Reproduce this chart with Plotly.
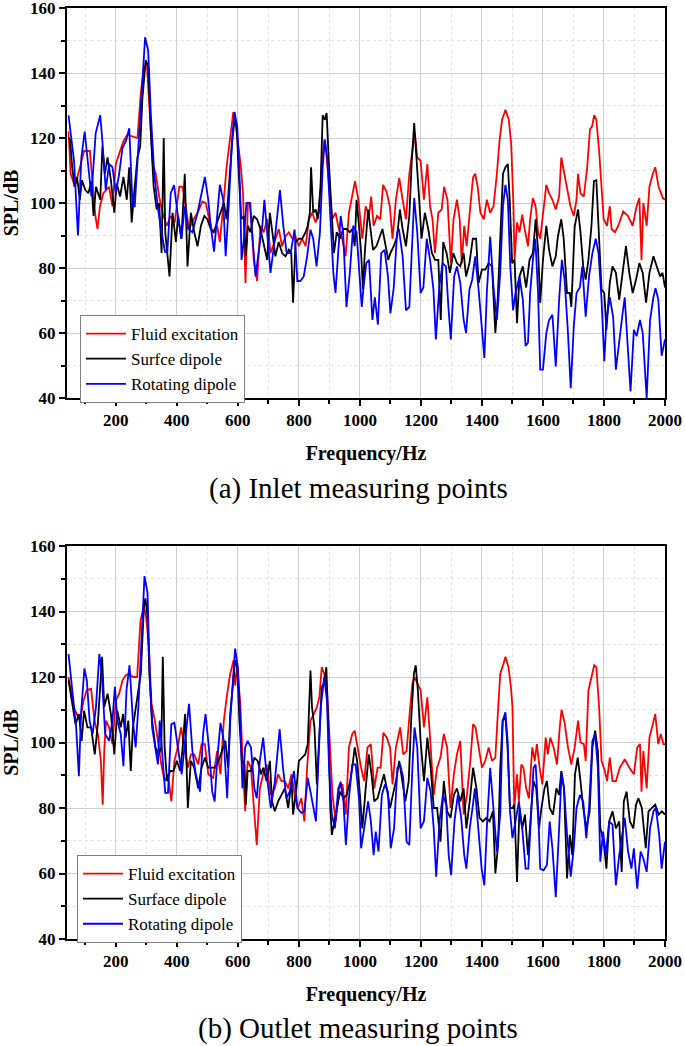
import plotly.graph_objects as go

# ---------------- data (frequency Hz, SPL dB) ----------------
inlet_fluid = [(45,122),(52,109),(66,105),(80,110),(96,116),(115,116),(124,105),(133,96),(140,92),(148,99),(159,103),(178,105),(189,99),(200,112),(214,116),(225,119),(238,121),(255,120.5),(271,120),(282,134),(293,142),(302,142.6),(312,127.7),(321,112),(331,109),(342,102),(353,97),(367,93),(380,96),(393,94),(408,105),(419,105),(429,99),(440,92),(455,95),(468,97),(484,100.5),(495,100),(506,95),(517,91),
(532,93),(541,88),(552,99),(563,111),(574,119.5),(585,128),(592,124.6),(600,118.5),(609,112),(617,103),(625,75.4),(633,100),(641,100),(652,82.5),(663,76),(674,93),(685,91),(696,95),(707,84.6),(720,88),(734,92),(745,86.7),(756,89.7),(767,91),(779,89),(789,89.7),(800,86.7),(811,89),(822,86.7),(833,95),(844,97),(855,94),(866,97),(877,114),(884,119.5),(891,114),(900,104),(909,95),(920,97),(931,92),(942,89),(953,83.6),(964,97),(975,103),(984,106.7),(995,101),
(1008,89),(1019,99),(1030,96),(1037,102),(1045,93),(1056,96),(1067,95),(1076,105.6),(1087,103.6),(1098,99),(1107,89),(1118,101),(1129,107.7),(1140,101),(1151,95),(1162,109),(1173,116),(1180,121.5),(1188,114),(1199,113),(1210,101),(1221,112),(1230,99),(1238,95),(1246,84.6),(1257,97),(1268,98),(1276,105),(1287,101),(1298,81.5),(1307,95),(1318,101),(1327,95),(1334,81.5),(1342,93),(1350,86.7),(1362,99),(1371,108),(1378,109),(1386,105),(1395,97),(1406,95),(1416,101),(1427,97),(1438,99),(1449,109),(1458,119.5),(1466,125.6),(1477,128.7),(1488,125.6),(1496,118),(1503,100),(1507,82.5),
(1515,94),(1523,91),(1532,96.4),(1540,92),(1551,86.7),(1558,95),(1567,101.5),(1576,99),(1584,91),(1591,89),(1600,97),(1611,105.6),(1620,103),(1631,101),(1642,98),(1653,102),(1660,114),(1668,110),(1679,105),(1690,99),(1701,96),(1710,101),(1715,109),(1723,103),(1734,102),(1745,111),(1754,122.6),(1761,123.6),(1768,127),(1775,125.6),(1784,116),(1792,105),(1799,95),(1810,93),(1819,99),(1825,92),(1836,91),(1847,93),(1863,97.4),(1879,96),(1894,93),(1907,99),(1916,101.5),(1923,82.5),(1929,100),(1940,93),(1949,105),(1960,109),(1968,111),(1979,105),(1987,103),(1993,101.5),(2000,101)]

inlet_surface = [(45,120),(50,119.5),(57,111),(65,105),(73,108),(82,101),(89,107),(100,104),(110,103),(120,106.7),(127,96),(135,105),(149,101),(156,117.4),(164,109),(173,114),(184,107),(195,97),(203,106),(214,102),(225,108),(236,101),(244,111),(252,94),(260,103),(271,114),(280,117.4),(287,132),(298,144),(306,142),(315,121.5),(324,105),(334,98),(342,100),(350,84.6),(357,120),(362,91),(369,84.6),(376,77.4),(386,97),(397,88),(404,96),(415,89),(426,109),(435,80.5),(446,97),(457,91),(468,86.7),(479,93),(490,96),(500,95),(511,92),
(521,91),(532,94),(543,97),(554,100),(563,95),(570,105),(581,118.5),(589,125.6),(596,123.6),(603,109),(611,95),(620,96),(626,83.6),(633,93),(641,91),(652,96),(663,95),(674,92),(685,86.7),(696,82.5),(705,97),(712,91),(723,83.6),(734,88),(745,84.6),(756,83.6),(767,85.6),(775,84.6),(781,69.3),(789,88),(800,89),(811,89),(822,91),(829,93),(836,97),(840,111),(847,97),(855,98),(862,95),(871,105),(878,127),(885,125.6),(891,127.7),(898,113),(906,99),(915,84.6),(924,91),(935,89),(945,92),(956,92),(967,91),(975,92),(983,86.7),(989,101),(997,93),(1004,84.6),(1010,73.4),
(1016,84.6),(1027,98),(1035,91),(1043,85.6),(1054,86.7),(1063,89),(1074,92),(1082,88),(1093,82.5),(1100,84.6),(1111,86.7),(1122,89.7),(1131,98),(1140,92),(1151,86.7),(1162,96),(1170,113),(1178,124.6),(1186,114),(1195,100),(1202,89),(1213,97),(1224,92),(1236,84.6),(1246,82.5),(1257,82.5),(1265,64),(1273,88),(1284,84.6),(1295,78.5),(1306,84.6),(1318,81.5),(1329,80.5),(1340,84.6),(1348,77.4),(1359,81.5),(1370,89),(1381,89),(1389,75.4),(1400,79.5),(1411,79.5),(1422,81.5),(1433,80.5),(1444,60),(1452,71),(1460,91),(1469,109),(1477,111),(1485,112),(1491,101),(1499,81.5),(1507,82.5),
(1515,63),(1523,77.4),(1534,80.5),(1545,74),(1556,82.5),(1567,84.6),(1576,95),(1584,85.6),(1591,69.3),(1600,82.5),(1611,93),(1620,85.6),(1631,80.5),(1642,83.6),(1649,89.7),(1660,95),(1668,89),(1679,72.3),(1688,72.3),(1693,68),(1704,92.8),(1715,98),(1723,91),(1732,80.5),(1740,76.4),(1749,82.5),(1759,93),(1767,106.7),(1775,107),(1784,89),(1792,73.4),(1801,72.3),(1808,61),(1819,75.4),(1828,80.5),(1839,78.5),(1850,70.3),(1861,78.5),(1872,86.7),(1883,78.5),(1894,72.3),(1905,76.4),(1916,81.5),(1927,78.5),(1938,69.3),(1949,78.5),(1962,83.6),(1973,80.5),(1984,77.4),(1992,78.5),(2000,74)]

inlet_rotating = [(45,127),(63,113),(76,90),(87,114),(98,122),(109,113),(120,102),(134,121.5),(149,127),(156,119),(167,104),(178,112),(189,111),(200,103),(211,109),(222,117),(233,119),(244,123),(255,99),(262,99),(273,116),(285,137),(296,151),(306,147),(315,127),(326,109),(337,99),(348,92),(361,85),(369,85),(380,103),(391,105.5),(402,97),(415,89),(426,99),(437,92),(451,91),(468,97),(481,103),(492,108),(503,101),(511,93),(522,85),
(532,96),(541,105.6),(552,101),(560,83.6),(570,99),(581,119.5),(589,128),(598,123.6),(607,105),(612,82.5),(620,89),(628,100),(639,100),(647,91),(658,77.4),(669,85.6),(680,92.8),(687,101),(696,91),(707,78.5),(720,88),(729,97),(738,104),(749,93),(760,84.6),(773,84.6),(786,91.8),(795,76),(805,76),(816,77.4),(827,83.6),(838,91.8),(847,89),(858,80.5),(869,91),(878,111),(885,119.5),(893,114),(904,96),(913,78.5),(920,72.3),(928,82.5),(937,96),(945,91),(956,68),(967,78.5),(978,93),(989,91),(1000,75.4),(1006,68),
(1013,75),(1021,81.5),(1030,82.5),(1041,64),(1049,71),(1059,62.6),(1070,84.6),(1081,85.6),(1092,77.4),(1100,66),(1111,74),(1122,91),(1128,92),(1140,83.6),(1151,67),(1162,68),(1173,91),(1178,101.5),(1188,91),(1199,72.3),(1208,74),(1219,89),(1230,82.5),(1241,73.4),(1249,58),(1260,74),(1271,81.5),(1282,80.5),(1290,68),(1298,58),(1309,77.4),(1318,80.5),(1329,75.4),(1340,64),(1348,60),(1359,73.4),(1368,76.4),(1378,83.6),(1389,73.4),(1400,60),(1408,52.3),(1416,72.3),(1427,89.7),(1438,74),(1449,64),(1460,78.5),(1469,99),(1477,105.6),(1485,101),(1493,80.5),(1502,67),(1510,72.3),
(1523,77.4),(1534,70.3),(1543,56),(1551,57),(1558,72.3),(1567,82.5),(1575,89),(1584,72.3),(1591,48.7),(1600,48.7),(1611,60),(1620,64),(1631,65.6),(1642,49.7),(1653,70.3),(1662,82.5),(1671,76.4),(1682,60),(1691,43),(1701,62),(1710,72.3),(1721,74),(1729,80.5),(1740,65),(1751,77.4),(1762,84.6),(1773,89),(1782,84.6),(1792,70.3),(1801,51.3),(1808,64),(1819,71),(1830,65),(1839,48.7),(1850,58),(1861,66),(1868,71),(1876,59),(1887,42),(1898,61),(1907,59),(1918,64),(1927,60),(1940,40),(1951,64),(1962,71),(1969,73.8),(1978,70.3),(1989,53),(2000,58)]

outlet_fluid = [(45,120),(62,110.8),(72,108.7),(83,106.7),(94,112.8),(105,116),(119,116.4),(130,106.7),(141,102.6),(146,97.4),(151,94.4),(157,81),(162,97.4),(168,106.7),(178,104.6),(189,99.5),(200,112.8),(211,114.9),(222,119),(232,120.5),(243,121),(256,120),(270,120),(281,137.4),(292,141.5),(299,138.5),(308,130),(317,111.8),(328,106.7),(338,100.5),(349,93.3),(360,88.2),(371,90.3),(382,82),(392,94.4),(403,98.5),(414,104.6),(425,98.5),(436,92.3),(446,96.4),(457,96.4),(470,93.3),(481,99.5),(492,99.5),(503,90.3),(519,89.2),
(532,97.4),(543,90.3),(554,106.7),(565,114.9),(575,121),(586,125.1),(591,117.4),(598,123),(608,111.8),(615,96.4),(624,79),(632,94.4),(643,92.3),(651,82),(662,68.7),(672,86),(683,90.3),(694,93.3),(708,84),(721,86),(732,90.3),(743,88.2),(754,88.2),(765,86),(776,90.3),(786,84),(797,80),(808,83),(818,75.9),(827,92.3),(838,106.7),(849,108.7),(859,110.8),(867,113.8),(875,123),(883,121),(892,115.9),(901,100.5),(910,84),(921,75.9),(932,86),(943,87.2),(954,78),(964,98.5),(975,102.6),(983,103.6),(994,97.4),(1004,92.3),(1014,88.2),
(1025,98.5),(1036,99.5),(1047,86),(1058,92.3),(1068,92.3),(1077,103),(1088,101.5),(1099,98.5),(1107,87.2),(1118,98.5),(1132,104.6),(1142,96.4),(1153,97.4),(1162,107.7),(1172,118),(1179,120),(1188,118),(1199,116),(1210,104.6),(1221,113.8),(1232,98.5),(1242,84),(1253,92.3),(1264,95.4),(1275,102.6),(1286,98.5),(1297,80),(1308,90.3),(1318,96.4),(1329,100.5),(1340,78),(1351,84),(1362,94.4),(1371,105.6),(1379,104.6),(1389,98.5),(1400,92.3),(1411,94.4),(1422,98.5),(1433,94.4),(1444,95.4),(1452,108.7),(1460,121),(1471,124.1),(1477,126.2),(1487,123),(1495,117),(1500,110.8),(1506,80),
(1515,90.3),(1521,82),(1529,93.3),(1536,92.3),(1545,86),(1554,83),(1565,98.5),(1573,94.4),(1580,99.5),(1589,92.3),(1598,87.2),(1609,101.5),(1616,96.4),(1624,101.5),(1635,98.5),(1646,93.3),(1655,104.6),(1661,110),(1671,106),(1682,98.5),(1693,93.3),(1704,98.5),(1715,106.7),(1723,100),(1734,99.5),(1740,94.4),(1749,115.9),(1759,120),(1768,123.6),(1775,123),(1784,110.8),(1792,94.4),(1803,91.3),(1810,88.2),(1819,95.4),(1828,88.2),(1839,88.2),(1852,92.3),(1868,94.9),(1883,92.3),(1898,90.3),(1909,98.5),(1918,99.5),(1923,85),(1929,97.4),(1940,86),(1949,101.5),(1960,105.6),(1968,108.7),(1978,99.5),(1986,102.6),(1995,99.5),(2000,99.5)]

outlet_surface = [(45,119),(58,110.8),(68,105.6),(79,108.7),(88,100.5),(96,109.7),(107,104.6),(119,104.6),(131,96.4),(141,105.6),(148,117),(155,126.2),(162,110.8),(173,114.9),(184,108.7),(195,96.4),(205,109.7),(216,104.6),(224,108.7),(232,101.5),(241,106.7),(249,91.3),(256,104.6),(265,109.7),(274,116),(282,121),(292,141.5),(297,144),(304,138.5),(310,121),(319,106.7),(330,98.5),(341,96.4),(349,98.5),(354,126.2),(360,98.5),(368,88.2),(378,91.3),(389,91.3),(400,94.4),(411,91.3),(418,97.4),(427,108.7),(436,80),(446,94.4),(457,92.3),(470,86),(481,92.3),(492,95.4),(503,92.3),(514,92.3),
(526,92.3),(537,94.4),(548,97.4),(559,100.5),(568,92.3),(575,108.7),(584,118),(591,125.1),(598,123),(605,106.7),(613,94.4),(622,93.3),(626,81),(632,91.3),(643,91.3),(654,95.4),(665,94.4),(676,90.3),(683,92.3),(694,88.2),(705,94.4),(712,82),(721,79),(732,82),(743,84),(754,86),(765,80),(776,88.2),(781,78),(792,86),(800,94.4),(810,95.4),(821,96.4),(829,99.5),(838,122),(843,110.8),(851,104.6),(859,87.2),(867,104.6),(875,117),(883,118),(890,123),(896,106.7),(903,80),(908,71.8),(916,75.9),(924,79),(935,85),(946,83),(957,84),(968,88.2),(975,92.3),(983,98.5),(991,94.4),(1000,84),(1008,73.8),
(1019,86),(1029,96.4),(1038,90.3),(1047,82),(1058,83),(1066,86),(1079,90.3),(1088,86),(1099,80),(1108,84),(1118,88.2),(1129,94.4),(1138,89.2),(1149,82),(1160,88.2),(1168,106.7),(1177,121),(1183,123.6),(1190,115.9),(1199,100.5),(1210,88.2),(1221,101.5),(1232,92.3),(1242,80),(1253,80),(1264,69.7),(1275,88.2),(1286,79),(1297,77),(1308,84),(1318,86),(1329,82),(1340,86),(1349,73.8),(1360,82),(1371,92.3),(1382,86),(1392,77),(1403,75.9),(1414,77),(1425,75.9),(1436,79),(1444,60),(1453,68.7),(1460,92.3),(1468,106.7),(1477,107.7),(1484,98.5),(1492,80),(1501,80),(1506,81),
(1515,57.4),(1523,80),(1532,73.8),(1541,78),(1551,65.6),(1562,80),(1569,88.2),(1578,86),(1587,73.8),(1595,80),(1605,86),(1613,88.2),(1622,80),(1633,78),(1644,86),(1653,84),(1660,91.3),(1669,86),(1679,58.5),(1688,71.8),(1696,65.6),(1705,90.3),(1714,95.4),(1723,88.2),(1732,80),(1742,73.8),(1753,79),(1762,98.5),(1771,103.6),(1780,97.4),(1788,73.8),(1799,69.7),(1808,61.5),(1817,75.9),(1828,79),(1839,73.8),(1850,75.9),(1858,60.5),(1865,82),(1874,85),(1885,75.9),(1896,73.8),(1905,81),(1913,83),(1924,80),(1937,67.7),(1946,79),(1957,80),(1968,81),(1979,78),(1990,79),(2000,78)]

outlet_rotating = [(45,127),(59,115),(70,104.6),(79,89.7),(86,108.7),(97,122.6),(105,119),(114,106.7),(124,102.6),(135,110.8),(146,127),(154,121),(165,102.6),(178,100.5),(189,106.7),(197,117),(205,106.7),(216,102.6),(225,92.8),(235,116),(245,123.6),(256,106.7),(265,98.5),(274,111),(284,133.3),(294,150.8),(304,145.6),(311,121),(319,104.6),(330,98.5),(338,93.3),(344,106.7),(351,98.5),(362,84.6),(371,84.6),(382,105.6),(392,106),(403,98.5),(416,90.3),(427,100.5),(440,111.8),(451,97.4),(462,90.3),(476,85),(486,102.6),(494,108.7),(505,98.5),(516,85),(524,82),
(532,94.4),(543,106),(554,100.5),(565,83),(575,106.7),(584,121),(591,128.7),(600,123),(608,106.7),(615,86),(624,98.5),(632,100.5),(643,98.5),(654,86),(662,83),(672,94.4),(683,101.5),(694,90.3),(708,80),(721,88),(732,100.5),(737,104),(748,92.3),(759,83),(770,85),(784,91.3),(795,80),(808,78.5),(818,79),(829,89.2),(838,85),(845,81),(856,75.9),(864,94.4),(872,111),(883,120),(892,112.8),(899,92.3),(908,78),(918,73.8),(929,86),(937,88),(946,82),(954,68.7),(964,83),(975,93.3),(986,93.3),(997,83),(1004,67.7),(1014,73.8),
(1027,82),(1036,75.9),(1045,65.6),(1052,72.8),(1061,66.7),(1072,84),(1082,87.2),(1092,85),(1101,67.7),(1112,73.8),(1123,92.3),(1132,93.3),(1142,89.2),(1153,69.7),(1162,68.7),(1172,92.3),(1179,104.6),(1188,98.5),(1199,73.8),(1210,76),(1221,89.2),(1232,85),(1242,73.8),(1250,59),(1261,76),(1272,84),(1283,81),(1291,65.6),(1299,59.5),(1310,76),(1321,84),(1332,77),(1342,65.6),(1349,61.5),(1360,73.8),(1369,80),(1377,86),(1388,73.8),(1399,61.5),(1408,56.4),(1416,73.8),(1427,92.3),(1438,78),(1449,66.7),(1460,78),(1468,106.7),(1477,109.2),(1484,100.5),(1492,79),(1500,70.8),(1510,75.9),
(1521,82),(1532,73.8),(1543,61.5),(1552,61.5),(1561,80),(1569,92.3),(1576,93.3),(1584,80),(1591,61.5),(1602,61),(1613,62.6),(1622,75.9),(1631,67.7),(1642,52.8),(1653,73.8),(1661,90.8),(1669,86),(1679,71.8),(1691,59),(1701,67.7),(1710,80),(1721,84),(1732,82),(1742,70.8),(1751,80),(1762,100.5),(1771,102.6),(1780,92.3),(1788,63.6),(1797,72.8),(1806,65.6),(1817,75.9),(1828,74.9),(1839,56.4),(1850,65.6),(1861,71.8),(1868,77),(1879,66.7),(1890,61.5),(1898,67.7),(1909,55.4),(1920,66.7),(1929,64.6),(1940,60.5),(1951,73.8),(1962,79),(1970,80),(1981,71.8),(1989,61.5),(2000,69.7)]

inlet_names = ["Fluid excitation", "Surfce dipole", "Rotating dipole"]
outlet_names = ["Fluid excitation", "Surface dipole", "Rotating dipole"]
colors = ["#ff0000", "#000000", "#0000ff"]
x_ticks = list(range(200, 2001, 200))
y_ticks = list(range(40, 161, 20))

# ---------------- figure ----------------
SERIF = "Liberation Serif, Times New Roman, serif"
fig = go.Figure()

def add_series(series, names, xa, ya, legend):
    for data, name, col in zip(series, names, colors):
        fig.add_trace(go.Scatter(
            x=[p[0] for p in data], y=[p[1] for p in data],
            mode="lines", name=name, line=dict(color=col, width=1.8),
            xaxis=xa, yaxis=ya, legend=legend))

add_series([inlet_fluid, inlet_surface, inlet_rotating], inlet_names, "x", "y", "legend")
add_series([outlet_fluid, outlet_surface, outlet_rotating], outlet_names, "x2", "y2", "legend2")

tickfont = dict(family=SERIF, size=17, color="black", weight="bold")
titlefont = dict(family=SERIF, size=20, color="black", weight="bold")

def xaxis_cfg(anchor):
    return dict(range=[40, 2000], tickvals=x_ticks, ticks="outside", ticklen=6, tickwidth=2,
                tickcolor="black", showline=True, linecolor="black", linewidth=2, mirror=True,
                showgrid=True, gridcolor="#cfcfcf", gridwidth=1, zeroline=False,
                tickfont=tickfont, anchor=anchor, automargin=False,
                ticklabeloverflow="allow",
                title=dict(text="Frequency/Hz", font=titlefont, standoff=17),
                minor=dict(dtick=100, tick0=0, ticks="outside", ticklen=4, tickwidth=1.5,
                           tickcolor="black", showgrid=True, gridcolor="#e2e2e2",
                           griddash="dot", gridwidth=1))

def yaxis_cfg(anchor, domain):
    return dict(range=[40, 160], tickvals=y_ticks, ticks="outside", ticklen=6, tickwidth=2,
                tickcolor="black", showline=True, linecolor="black", linewidth=2, mirror=True,
                showgrid=True, gridcolor="#cfcfcf", gridwidth=1, zeroline=False,
                tickfont=tickfont, anchor=anchor, domain=domain, automargin=False,
                ticklabeloverflow="allow",
                title=dict(text="SPL/dB", font=titlefont, standoff=8),
                minor=dict(dtick=10, tick0=0, ticks="outside", ticklen=4, tickwidth=1.5,
                           tickcolor="black", showgrid=True, gridcolor="#e2e2e2",
                           griddash="dot", gridwidth=1))

legfont = dict(family=SERIF, size=17, color="black")
fig.update_layout(
    width=685, height=1046,
    margin=dict(l=67, r=20, t=8, b=107, autoexpand=False),
    paper_bgcolor="white", plot_bgcolor="white",
    xaxis=xaxis_cfg("y"), yaxis=yaxis_cfg("x", [0.5811, 1.0]),
    xaxis2=xaxis_cfg("y2"), yaxis2=yaxis_cfg("x2", [0.0, 0.4221]),
    legend=dict(x=0.0217, y=0.6702, xanchor="left", yanchor="top", font=legfont,
                bordercolor="#7f7f7f", borderwidth=1, bgcolor="white",
                tracegroupgap=0, itemwidth=40),
    legend2=dict(x=0.0167, y=0.0902, xanchor="left", yanchor="top", font=legfont,
                 bordercolor="#7f7f7f", borderwidth=1, bgcolor="white",
                 tracegroupgap=0, itemwidth=40),
    showlegend=True,
    annotations=[
        dict(text="(a) Inlet measuring points", xref="paper", yref="paper",
             x=0.487, y=0.4834, xanchor="center", yanchor="middle", showarrow=False,
             font=dict(family=SERIF, size=29, color="black")),
        dict(text="(b) Outlet measuring points", xref="paper", yref="paper",
             x=0.487, y=-0.0956, xanchor="center", yanchor="middle", showarrow=False,
             font=dict(family=SERIF, size=29, color="black")),
    ],
)

# remove the browser's default 8px body margin so the figure sits at the page origin
fig.write_html("out.html", config={"displayModeBar": False},
               post_script="document.body.style.margin='0';")
